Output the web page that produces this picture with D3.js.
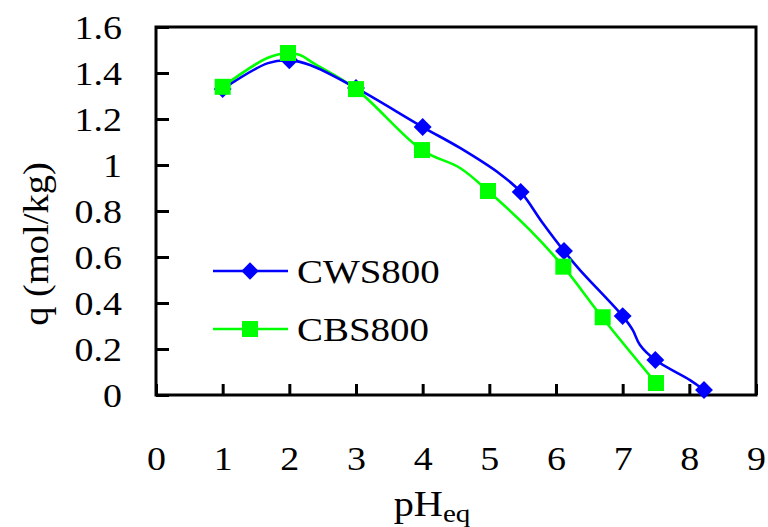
<!DOCTYPE html>
<html>
<head>
<meta charset="utf-8">
<script src="https://cdn.jsdelivr.net/npm/d3@7"></script>
<style>
  html, body { margin: 0; padding: 0; background: #fff; }
  svg { display: block; }
</style>
</head>
<body>
<svg id="chart" width="768" height="527"></svg>
<script>
// Measured adsorption points (pH_eq, q in mol/kg)
const cwsPH = [1.0, 2.0, 3.0, 4.0, 5.47, 6.12, 7.0, 7.49, 8.22];
const cwsQ  = [1.33, 1.455, 1.335, 1.165, 0.883, 0.626, 0.343, 0.152, 0.022];
const cbsPH = [1.0, 1.98, 3.0, 3.99, 4.98, 6.11, 6.70, 7.5];
const cbsQ  = [1.34, 1.487, 1.33, 1.065, 0.887, 0.558, 0.338, 0.052];

// Fitted curves drawn under the markers
const cwsCurvePH = [1.0, 1.68, 2.0, 2.31, 3.0, 4.0, 4.56, 5.16, 5.47, 5.80, 6.12, 6.36, 7.0, 7.15, 7.26, 7.49, 8.01, 8.22];
const cwsCurveQ  = [1.33, 1.443, 1.455, 1.435, 1.335, 1.165, 1.074, 0.961, 0.883, 0.748, 0.626, 0.543, 0.343, 0.283, 0.217, 0.152, 0.065, 0.022];
const cbsCurvePH = [1.0, 1.67, 1.98, 2.16, 2.36, 3.0, 3.99, 4.56, 4.98, 5.61, 6.11, 6.70, 7.5];
const cbsCurveQ  = [1.34, 1.465, 1.487, 1.478, 1.443, 1.33, 1.065, 0.987, 0.887, 0.717, 0.558, 0.335, 0.052];

const xTicks = [0, 1, 2, 3, 4, 5, 6, 7, 8, 9];
const yTicks = [0, 0.2, 0.4, 0.6, 0.8, 1, 1.2, 1.4, 1.6];
const seriesNames = ["CWS800", "CBS800"];

const FONT = "Liberation Serif";
const svg = d3.select("#chart");
const plotLeft = 156, plotRight = 756, plotTop = 27, plotBottom = 395;

const x = d3.scaleLinear().domain([0, 9]).range([plotLeft, plotRight]);
const y = d3.scaleLinear().domain([0, 1.6]).range([plotBottom, plotTop]);

const blue = "#0000ff", green = "#00ff00";

// Plot frame
svg.append("rect")
  .attr("x", plotLeft).attr("y", plotTop)
  .attr("width", plotRight - plotLeft).attr("height", plotBottom - plotTop)
  .attr("fill", "none").attr("stroke", "#000").attr("stroke-width", 3);

// Axes with inward ticks; labels are slightly widened serif text
const xAxis = d3.axisBottom(x).tickValues(xTicks).tickSize(-11).tickFormat(d3.format("d"));
const gx = svg.append("g").attr("transform", `translate(0,${plotBottom})`).call(xAxis);
gx.attr("font-family", null).attr("font-size", null);
gx.select(".domain").remove();
gx.selectAll(".tick line").attr("stroke", "#000").attr("stroke-width", 3);
gx.selectAll(".tick text")
  .attr("y", 0).attr("dy", "0.71em")
  .attr("transform", "translate(0,52) scale(1.15,1)")
  .style("font-family", FONT).style("font-size", "33px").attr("fill", "#000");

const yAxis = d3.axisLeft(y).tickValues(yTicks).tickSize(-13)
  .tickFormat(d => String(+d.toFixed(1)));
const gy = svg.append("g").attr("transform", `translate(${plotLeft},0)`).call(yAxis);
gy.attr("font-family", null).attr("font-size", null);
gy.select(".domain").remove();
gy.selectAll(".tick line").attr("stroke", "#000").attr("stroke-width", 3);
gy.selectAll(".tick text")
  .attr("x", 0).attr("dy", "0.35em")
  .attr("transform", "translate(-34,0) scale(1.15,1)")
  .style("font-family", FONT).style("font-size", "33px").attr("fill", "#000");

// Curves
const line = d3.line().x(d => x(d[0])).y(d => y(d[1])).curve(d3.curveCatmullRom.alpha(0.5));
const cwsCurve = cwsCurvePH.map((p, i) => [p, cwsCurveQ[i]]);
const cbsCurve = cbsCurvePH.map((p, i) => [p, cbsCurveQ[i]]);

svg.append("path").datum(cbsCurve).attr("d", line)
  .attr("fill", "none").attr("stroke", green).attr("stroke-width", 2.6);
svg.append("path").datum(cwsCurve).attr("d", line)
  .attr("fill", "none").attr("stroke", blue).attr("stroke-width", 2.6);

// Markers
const diamond = d3.symbol().type(d3.symbolSquare).size(160);
svg.append("g").selectAll("path")
  .data(cwsPH.map((p, i) => [p, cwsQ[i]]))
  .join("path")
  .attr("d", diamond)
  .attr("transform", d => `translate(${x(d[0])},${y(d[1])}) rotate(45)`)
  .attr("fill", blue);

svg.append("g").selectAll("rect")
  .data(cbsPH.map((p, i) => [p, cbsQ[i]]))
  .join("rect")
  .attr("x", d => x(d[0]) - 8).attr("y", d => y(d[1]) - 8)
  .attr("width", 16).attr("height", 16)
  .attr("fill", green);

// Legend
const legend = svg.append("g");
const legendRows = [
  { name: seriesNames[0], color: blue, cy: 271, marker: "diamond" },
  { name: seriesNames[1], color: green, cy: 329, marker: "square" }
];
legendRows.forEach(r => {
  legend.append("line").attr("x1", 213).attr("x2", 288).attr("y1", r.cy).attr("y2", r.cy)
    .attr("stroke", r.color).attr("stroke-width", 2.6);
  if (r.marker === "diamond") {
    legend.append("path").attr("d", d3.symbol().type(d3.symbolSquare).size(150))
      .attr("transform", `translate(250,${r.cy}) rotate(45)`).attr("fill", r.color);
  } else {
    legend.append("rect").attr("x", 242).attr("y", r.cy - 8).attr("width", 16).attr("height", 16)
      .attr("fill", r.color);
  }
  legend.append("text")
    .attr("transform", `translate(297,${r.cy + 12}) scale(1.18,1)`)
    .style("font-family", FONT).style("font-size", "33px").attr("fill", "#000")
    .text(r.name);
});

// Axis titles
svg.append("text")
  .attr("transform", "translate(48,244) rotate(-90) scale(1.1,1)")
  .attr("text-anchor", "middle")
  .style("font-family", FONT).style("font-size", "35px").attr("fill", "#000")
  .text("q (mol/kg)");

const xt = svg.append("text")
  .attr("transform", "translate(432,516) scale(1.12,1)")
  .attr("text-anchor", "middle")
  .style("font-family", FONT).style("font-size", "36px").attr("fill", "#000");
xt.append("tspan").text("pH");
xt.append("tspan").style("font-size", "26px").attr("dy", 6).text("eq");
</script>
</body>
</html>
